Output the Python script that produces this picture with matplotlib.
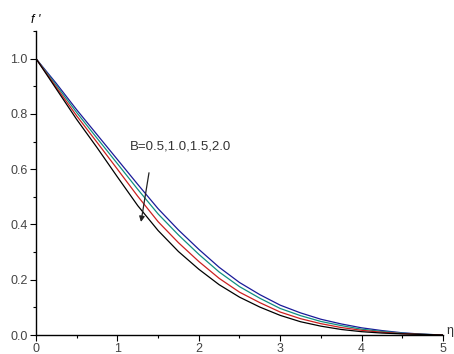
import matplotlib
matplotlib.use("Agg")
import matplotlib.pyplot as plt
from matplotlib.ticker import MultipleLocator

plt.rcParams['font.family'] = ['Liberation Sans', 'DejaVu Sans']

eta = [0.0, 0.25, 0.5, 0.75, 1.0, 1.25, 1.5, 1.75, 2.0, 2.25, 2.5, 2.75,
       3.0, 3.25, 3.5, 3.75, 4.0, 4.25, 4.5, 4.75, 5.0]

f_B05 = [1.0, 0.91, 0.815, 0.725, 0.635, 0.545, 0.457, 0.38, 0.31, 0.245, 0.19, 0.146,
         0.108, 0.08, 0.057, 0.04, 0.026, 0.016, 0.008, 0.003, 0.0]
f_B10 = [1.0, 0.903, 0.805, 0.712, 0.620, 0.527, 0.438, 0.362, 0.292, 0.228, 0.175, 0.133,
         0.096, 0.070, 0.049, 0.034, 0.021, 0.013, 0.0065, 0.0027, 0.0]
f_B15 = [1.0, 0.896, 0.793, 0.697, 0.600, 0.502, 0.410, 0.334, 0.266, 0.205, 0.155, 0.117,
         0.083, 0.059, 0.041, 0.027, 0.017, 0.010, 0.005, 0.002, 0.0]
f_B20 = [1.0, 0.89, 0.78, 0.678, 0.572, 0.468, 0.378, 0.302, 0.238, 0.182, 0.137, 0.101,
         0.071, 0.048, 0.032, 0.02, 0.012, 0.007, 0.004, 0.002, 0.0]

series = [f_B05, f_B10, f_B15, f_B20]
colors = ['#1a1a99', '#109080', '#cc2020', '#000000']

label_text = 'B=0.5,1.0,1.5,2.0'

fig = plt.figure(figsize=(4.54, 3.54), dpi=100)
ax = fig.add_axes([36/454, 1-335/354, (443-36)/454, (335-31)/354])

for ys, c in zip(series, colors):
    ax.plot(eta, ys, color=c, lw=0.9)

ax.set_xlim(0, 5)
ax.set_ylim(0, 1.1)
ax.spines['top'].set_visible(False)
ax.spines['right'].set_visible(False)
ax.spines['left'].set_linewidth(1.0)
ax.spines['bottom'].set_linewidth(1.0)

ax.xaxis.set_major_locator(MultipleLocator(1))
ax.xaxis.set_minor_locator(MultipleLocator(0.5))
ax.yaxis.set_minor_locator(MultipleLocator(0.1))
ax.set_yticks([0, 0.2, 0.4, 0.6, 0.8, 1.0])
ax.set_yticklabels(['0.0', '0.2', '0.4', '0.6', '0.8', '1.0'])
ax.tick_params(which='major', direction='out', length=4, width=0.8,
               labelsize=9, labelcolor='#444444', pad=2)
ax.tick_params(which='minor', direction='out', length=2.5, width=0.8)

ax.text(1.155, 0.681, label_text, fontsize=9.5, color='#333333', va='center', ha='left')
ax.annotate('', xy=(1.29, 0.409), xytext=(1.388, 0.587),
            arrowprops=dict(arrowstyle='-|>', color='#222222', lw=0.9,
                            mutation_scale=8, shrinkA=0, shrinkB=0))

ax.text(0.0, 1.14, "f '", fontsize=9, style='italic', ha='center', va='center',
        clip_on=False)
ax.text(5.09, 0.015, 'η', fontsize=9, ha='center', va='center', clip_on=False,
        color='#333333')

fig.savefig('out.png', dpi=100)
